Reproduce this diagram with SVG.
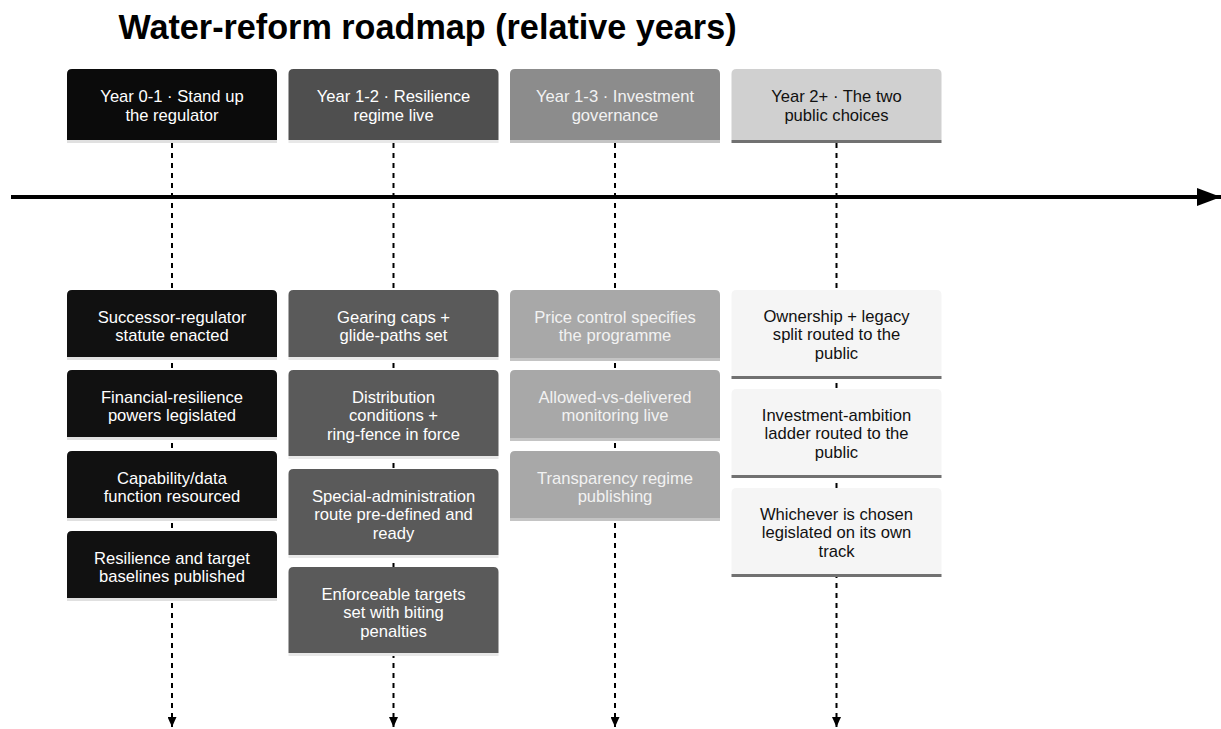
<svg xmlns="http://www.w3.org/2000/svg" width="1221" height="729" viewBox="0 0 1221 729">
<style>
text{font-family:"Liberation Sans",Arial,Helvetica,sans-serif;font-size:16.6px;text-anchor:middle}
.title{font-size:34.2px;font-weight:bold;fill:#000}
.vline{stroke:#000;stroke-width:2;stroke-dasharray:5 5;fill:none}
.axis{stroke:#000;stroke-width:4;fill:none}
.h1{fill:#0b0b0b}.h2{fill:#4f4f4f}.h3{fill:#8c8c8c}.h4{fill:#d0d0d0}
.e1{fill:#111111}.e2{fill:#5a5a5a}.e3{fill:#a8a8a8}.e4{fill:#f5f5f5}
.l1{stroke:#e0e0e0;stroke-width:3}.l2{stroke:#e8e8e8;stroke-width:3}.l3{stroke:#c4c4c4;stroke-width:3}.l4{stroke:#717171;stroke-width:3}
.tw{fill:#ffffff}.tl{fill:#f2f2f2}.td{fill:#111111}
</style>
<defs>
<marker id="ax" viewBox="0 0 10 10" refX="10" refY="5" markerWidth="6" markerHeight="4.5" markerUnits="strokeWidth" orient="auto" preserveAspectRatio="none">
<path d="M0,0 L10,5 L0,10 Z" fill="#000"/>
</marker>
<marker id="vx" viewBox="0 0 10 10" refX="10" refY="5" markerWidth="5" markerHeight="4.5" markerUnits="strokeWidth" orient="auto" preserveAspectRatio="none">
<path d="M0,0 L10,5 L0,10 Z" fill="#000"/>
</marker>
</defs>
<text class="title" x="427.5" y="39">Water-reform roadmap (relative years)</text>
<g id="connectors">
<line class="axis" x1="11" y1="197" x2="1221" y2="197" marker-end="url(#ax)"/>
<line class="vline" x1="172" y1="143" x2="172" y2="727" marker-end="url(#vx)"/>
<line class="vline" x1="393.5" y1="143" x2="393.5" y2="727" marker-end="url(#vx)"/>
<line class="vline" x1="615" y1="143" x2="615" y2="727" marker-end="url(#vx)"/>
<line class="vline" x1="836.5" y1="143" x2="836.5" y2="727" marker-end="url(#vx)"/>
</g>
<g id="section1">
<path class="h1" d="M67 140V74Q67 69 72 69H272Q277 69 277 74V140Z"/>
<line class="l1" x1="67" y1="141.5" x2="277" y2="141.5"/>
<text class="tw" x="172" y="101.5">Year 0-1 · Stand up</text>
<text class="tw" x="172" y="120.5">the regulator</text>
</g>
<g id="section2">
<path class="h2" d="M288.5 140V74Q288.5 69 293.5 69H493.5Q498.5 69 498.5 74V140Z"/>
<line class="l2" x1="288.5" y1="141.5" x2="498.5" y2="141.5"/>
<text class="tw" x="393.5" y="101.5">Year 1-2 · Resilience</text>
<text class="tw" x="393.5" y="120.5">regime live</text>
</g>
<g id="section3">
<path class="h3" d="M510 140V74Q510 69 515 69H715Q720 69 720 74V140Z"/>
<line class="l3" x1="510" y1="141.5" x2="720" y2="141.5"/>
<text class="tl" x="615" y="101.5">Year 1-3 · Investment</text>
<text class="tl" x="615" y="120.5">governance</text>
</g>
<g id="section4">
<path class="h4" d="M731.5 140V74Q731.5 69 736.5 69H936.5Q941.5 69 941.5 74V140Z"/>
<line class="l4" x1="731.5" y1="141.5" x2="941.5" y2="141.5"/>
<text class="td" x="836.5" y="101.5">Year 2+ · The two</text>
<text class="td" x="836.5" y="120.5">public choices</text>
</g>
<g id="e1a">
<path class="e1" d="M67 357V295Q67 290 72 290H272Q277 290 277 295V357Z"/>
<line class="l1" x1="67" y1="358.5" x2="277" y2="358.5"/>
<text class="tw" x="172" y="322.5">Successor-regulator</text>
<text class="tw" x="172" y="341">statute enacted</text>
</g>
<g id="e1b">
<path class="e1" d="M67 437V375Q67 370 72 370H272Q277 370 277 375V437Z"/>
<line class="l1" x1="67" y1="438.5" x2="277" y2="438.5"/>
<text class="tw" x="172" y="402.5">Financial-resilience</text>
<text class="tw" x="172" y="421">powers legislated</text>
</g>
<g id="e1c">
<path class="e1" d="M67 518V456Q67 451 72 451H272Q277 451 277 456V518Z"/>
<line class="l1" x1="67" y1="519.5" x2="277" y2="519.5"/>
<text class="tw" x="172" y="483.5">Capability/data</text>
<text class="tw" x="172" y="502">function resourced</text>
</g>
<g id="e1d">
<path class="e1" d="M67 598V536Q67 531 72 531H272Q277 531 277 536V598Z"/>
<line class="l1" x1="67" y1="599.5" x2="277" y2="599.5"/>
<text class="tw" x="172" y="563.5">Resilience and target</text>
<text class="tw" x="172" y="582">baselines published</text>
</g>
<g id="e2a">
<path class="e2" d="M288.5 357V295Q288.5 290 293.5 290H493.5Q498.5 290 498.5 295V357Z"/>
<line class="l2" x1="288.5" y1="358.5" x2="498.5" y2="358.5"/>
<text class="tw" x="393.5" y="322.5">Gearing caps +</text>
<text class="tw" x="393.5" y="341">glide-paths set</text>
</g>
<g id="e2b">
<path class="e2" d="M288.5 456V375Q288.5 370 293.5 370H493.5Q498.5 370 498.5 375V456Z"/>
<line class="l2" x1="288.5" y1="457.5" x2="498.5" y2="457.5"/>
<text class="tw" x="393.5" y="402.5">Distribution</text>
<text class="tw" x="393.5" y="421">conditions +</text>
<text class="tw" x="393.5" y="439.5">ring-fence in force</text>
</g>
<g id="e2c">
<path class="e2" d="M288.5 555V474Q288.5 469 293.5 469H493.5Q498.5 469 498.5 474V555Z"/>
<line class="l2" x1="288.5" y1="556.5" x2="498.5" y2="556.5"/>
<text class="tw" x="393.5" y="501.5">Special-administration</text>
<text class="tw" x="393.5" y="520">route pre-defined and</text>
<text class="tw" x="393.5" y="538.5">ready</text>
</g>
<g id="e2d">
<path class="e2" d="M288.5 653V572Q288.5 567 293.5 567H493.5Q498.5 567 498.5 572V653Z"/>
<line class="l2" x1="288.5" y1="654.5" x2="498.5" y2="654.5"/>
<text class="tw" x="393.5" y="599.5">Enforceable targets</text>
<text class="tw" x="393.5" y="618">set with biting</text>
<text class="tw" x="393.5" y="636.5">penalties</text>
</g>
<g id="e3a">
<path class="e3" d="M510 358V295Q510 290 515 290H715Q720 290 720 295V358Z"/>
<line class="l3" x1="510" y1="359.5" x2="720" y2="359.5"/>
<text class="tl" x="615" y="322.5">Price control specifies</text>
<text class="tl" x="615" y="341">the programme</text>
</g>
<g id="e3b">
<path class="e3" d="M510 438V375Q510 370 515 370H715Q720 370 720 375V438Z"/>
<line class="l3" x1="510" y1="439.5" x2="720" y2="439.5"/>
<text class="tl" x="615" y="402.5">Allowed-vs-delivered</text>
<text class="tl" x="615" y="421">monitoring live</text>
</g>
<g id="e3c">
<path class="e3" d="M510 518V456Q510 451 515 451H715Q720 451 720 456V518Z"/>
<line class="l3" x1="510" y1="519.5" x2="720" y2="519.5"/>
<text class="tl" x="615" y="483.5">Transparency regime</text>
<text class="tl" x="615" y="502">publishing</text>
</g>
<g id="e4a">
<path class="e4" d="M731.5 376V295Q731.5 290 736.5 290H936.5Q941.5 290 941.5 295V376Z"/>
<line class="l4" x1="731.5" y1="377.5" x2="941.5" y2="377.5"/>
<text class="td" x="836.5" y="321.5">Ownership + legacy</text>
<text class="td" x="836.5" y="340">split routed to the</text>
<text class="td" x="836.5" y="358.5">public</text>
</g>
<g id="e4b">
<path class="e4" d="M731.5 475V394Q731.5 389 736.5 389H936.5Q941.5 389 941.5 394V475Z"/>
<line class="l4" x1="731.5" y1="476.5" x2="941.5" y2="476.5"/>
<text class="td" x="836.5" y="420.5">Investment-ambition</text>
<text class="td" x="836.5" y="439">ladder routed to the</text>
<text class="td" x="836.5" y="457.5">public</text>
</g>
<g id="e4c">
<path class="e4" d="M731.5 574V493Q731.5 488 736.5 488H936.5Q941.5 488 941.5 493V574Z"/>
<line class="l4" x1="731.5" y1="575.5" x2="941.5" y2="575.5"/>
<text class="td" x="836.5" y="519.5">Whichever is chosen</text>
<text class="td" x="836.5" y="538">legislated on its own</text>
<text class="td" x="836.5" y="556.5">track</text>
</g>
</svg>
